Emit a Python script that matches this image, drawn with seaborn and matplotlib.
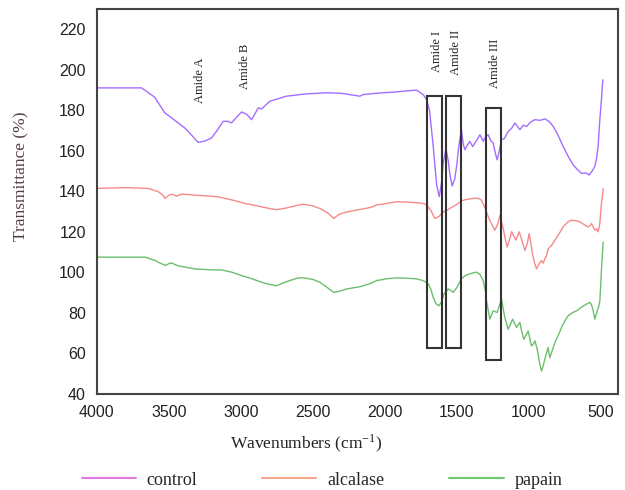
import numpy as np
import pandas as pd
import matplotlib
matplotlib.use("Agg")
import matplotlib.pyplot as plt
import seaborn as sns
from matplotlib.patches import Rectangle
from matplotlib.lines import Line2D

# =====================================================
# DATA
# =====================================================
control_x = [4000, 3690, 3600, 3528, 3450, 3389, 3340, 3297, 3250, 3204, 3160, 3123, 3090,
             3065, 3030, 2995, 2960, 2926, 2900, 2880, 2856, 2799, 2683, 2550, 2405, 2300,
             2174, 2150, 2050, 1942, 1850, 1780, 1734, 1711, 1690, 1664, 1640, 1622, 1605,
             1595, 1576, 1560, 1549, 1533, 1515, 1502, 1485, 1468, 1455, 1444, 1425, 1410,
             1390, 1375, 1355, 1340, 1317, 1300, 1282, 1265, 1248, 1230, 1220, 1205, 1190,
             1170, 1144, 1120, 1097, 1080, 1062, 1040, 1016, 990, 958, 920, 889, 860, 831,
             800, 762, 725, 692, 660, 634, 600, 581, 560, 542, 530, 519, 507, 495, 489, 486]
control_y = [191, 191, 186.5, 178.7, 174.5, 171.2, 167.5, 164.1, 164.8, 166.3, 170.5, 174.5,
             174.5, 173.7, 176.5, 179.1, 178, 175.3, 178.5, 181.1, 180.6, 184.4, 186.9, 188,
             188.6, 188.3, 186.9, 187.7, 188.4, 188.9, 189.5, 189.9, 187.7, 185.3, 180, 162.1,
             143, 137.3, 145, 153.8, 161.2, 155, 148.8, 142.6, 146, 152.2, 163, 170.4, 163,
             160.5, 163, 164.6, 162, 163.8, 166, 167.9, 164.6, 167, 167.9, 165, 163.8, 158,
             155.5, 160, 165.4, 166, 169.5, 171, 173.7, 172, 170.4, 172.5, 172, 174, 175.3,
             175, 175.7, 174.5, 172, 168, 162.1, 157, 153, 150.5, 148.8, 149, 148, 150,
             152.2, 156, 162.1, 175.3, 186, 192.7, 195]

alcalase_x = [4000, 3800, 3644, 3574, 3540, 3528, 3500, 3481, 3447, 3412, 3300, 3158, 3050,
              2972, 2900, 2856, 2800, 2752, 2680, 2600, 2567, 2500, 2451, 2400, 2354, 2320,
              2266, 2174, 2100, 2058, 1990, 1919, 1850, 1780, 1730, 1711, 1680, 1653, 1625,
              1595, 1560, 1537, 1500, 1468, 1430, 1387, 1350, 1329, 1300, 1282, 1260, 1236,
              1215, 1201, 1190, 1178, 1165, 1151, 1135, 1120, 1105, 1090, 1078, 1067, 1045,
              1028, 1012, 998, 985, 975, 960, 947, 930, 912, 900, 889, 878, 866, 840, 819,
              790, 762, 730, 704, 675, 646, 615, 588, 575, 565, 550, 542, 530, 519, 507, 496,
              488, 484]
alcalase_y = [141.4, 141.8, 141.4, 139.8, 138, 136.5, 138, 138.6, 137.6, 138.6, 138, 137.3,
              135.5, 134, 133, 132.3, 131.5, 130.9, 131.8, 133.2, 133.6, 132.8, 131.5, 129.5,
              126.6, 128.5, 129.8, 131, 132, 133.2, 134, 134.8, 134.7, 134.3, 134, 133.2,
              130.5, 126.6, 127.5, 129.8, 131, 132, 133.5, 135.3, 136, 136.5, 136.5, 135.6,
              131, 127.4, 124, 120.8, 124, 128.2, 125, 121.6, 117, 112.5, 116, 120, 118,
              115.9, 118, 120, 115, 110.8, 114, 119.1, 114, 109.1, 104.5, 101.7, 104, 105.8,
              104.5, 106.7, 108, 111.6, 113.5, 115.9, 119, 122.4, 124.8, 125.7, 125.5, 124.9,
              123.5, 122.4, 123, 124.1, 122, 120.8, 121.5, 120, 124.1, 134, 138, 141.4]

papain_x = [4000, 3800, 3667, 3597, 3560, 3523, 3500, 3481, 3435, 3380, 3319, 3200, 3134,
            3060, 2995, 2930, 2856, 2800, 2752, 2680, 2600, 2567, 2500, 2451, 2400, 2354,
            2300, 2266, 2174, 2100, 2058, 1990, 1919, 1850, 1780, 1740, 1711, 1699, 1680,
            1664, 1645, 1625, 1605, 1590, 1560, 1540, 1525, 1500, 1468, 1440, 1410, 1366,
            1340, 1317, 1300, 1294, 1271, 1248, 1220, 1190, 1167, 1144, 1130, 1113, 1100,
            1086, 1075, 1062, 1050, 1035, 1020, 1005, 995, 982, 970, 958, 945, 935, 925,
            912, 900, 889, 878, 866, 860, 854, 835, 819, 795, 773, 750, 727, 700, 669, 630,
            600, 576, 565, 553, 542, 533, 525, 515, 507, 500, 496, 490, 484]
papain_y = [107.5, 107.5, 107.5, 105.9, 104.5, 103.4, 104.3, 104.6, 103.2, 102.5, 101.7,
            101.2, 101.2, 100, 98.4, 97, 95.1, 94, 93.4, 95.5, 97.3, 97.3, 96.5, 95.1, 92.5,
            90.1, 91, 91.8, 92.9, 94.5, 95.9, 96.8, 97.3, 97.1, 96.8, 96, 95.1, 94.3, 91.5,
            87.6, 84.5, 83.5, 85.5, 89.3, 91.8, 91, 90.1, 92.5, 96.8, 98.5, 99.3, 100.1, 99,
            95.9, 90, 86, 76.9, 81, 80.2, 86.8, 77.7, 71.9, 74, 76.9, 75, 72.8, 74, 75.3, 71,
            67, 69, 71.1, 68, 63.7, 64.5, 66.2, 63, 59.6, 55, 51.3, 54, 57.1, 60, 62.9, 60,
            57.9, 62, 65.4, 69, 72.8, 76, 78.6, 80, 81, 83, 84.3, 85.2, 84, 81, 76.9, 79, 81,
            83, 86, 95, 100.9, 108, 114.9]

series_names = ["control", "alcalase", "papain"]
line_colors = ["#a36eff", "#f58a8a", "#6cbf6c"]
legend_colors = ["#e07ae0", "#f5a88a", "#6dc86d"]

# amide band boxes: (x_left, x_right, y_bottom, y_top)
boxes = [(1706, 1600, 62.5, 187.2), (1576, 1468, 62.5, 187.2), (1301, 1194, 56.7, 181.1)]
amide_labels = ["Amide A", "Amide B", "Amide I", "Amide II", "Amide III"]
amide_x = [3285, 2972, 1641, 1503, 1236]
amide_y = [194.5, 201.4, 208.8, 208.6, 203]

df = pd.concat([
    pd.DataFrame({"wn": control_x, "T": control_y, "sample": "control"}),
    pd.DataFrame({"wn": alcalase_x, "T": alcalase_y, "sample": "alcalase"}),
    pd.DataFrame({"wn": papain_x, "T": papain_y, "sample": "papain"}),
])

# =====================================================
# PLOT
# =====================================================
sns.set_style("white")
plt.rcParams["font.family"] = ["Liberation Sans", "DejaVu Sans"]
plt.rcParams["mathtext.fontset"] = "stix"

fig = plt.figure(figsize=(6.25, 4.9), dpi=100)
ax = fig.add_axes([0.155, 0.196, 0.834, 0.786])

sns.lineplot(data=df, x="wn", y="T", hue="sample", palette=dict(zip(series_names, line_colors)),
             sort=False, estimator=None, linewidth=1.0, legend=False, ax=ax)

for x0, x1, y0, y1 in boxes:
    ax.add_patch(Rectangle((x1, y0), x0 - x1, y1 - y0, fill=False,
                           edgecolor="#333333", linewidth=1.5, zorder=3))

for lab, xx, yy in zip(amide_labels, amide_x, amide_y):
    ax.text(xx, yy, lab, rotation=90, ha="center", va="center", fontsize=9,
            family="Liberation Serif", color="#222222")

ax.set_xlim(4000, 380)
ax.set_ylim(40, 230)
ax.set_xticks([4000, 3500, 3000, 2500, 2000, 1500, 1000, 500])
ax.set_yticks(np.arange(40, 221, 20))
ax.tick_params(length=0, labelsize=11.5, labelcolor="#222222", pad=8)

for s in ax.spines.values():
    s.set_color("#444444")
    s.set_linewidth(1.5)

ax.set_xlabel("Wavenumbers (cm$^{\\mathregular{-1}}$)", fontsize=12.5,
              family="Liberation Serif", color="#222222")
ax.set_ylabel("Transmittance (%)", fontsize=12.5, family="Liberation Serif", color="#553f3f")
ax.xaxis.set_label_coords(0.401, -0.1)
ax.yaxis.set_label_coords(-0.13, 0.566)

handles = [Line2D([0], [0], color=c, lw=1.5) for c in legend_colors]
fig.legend(handles, series_names, loc="center", bbox_to_anchor=(0.515, 0.02), ncol=3,
           frameon=False, handlelength=3.0, handletextpad=0.6, columnspacing=3.6,
           prop={"family": "Liberation Serif", "size": 13})

plt.savefig("out.png", dpi=100)
